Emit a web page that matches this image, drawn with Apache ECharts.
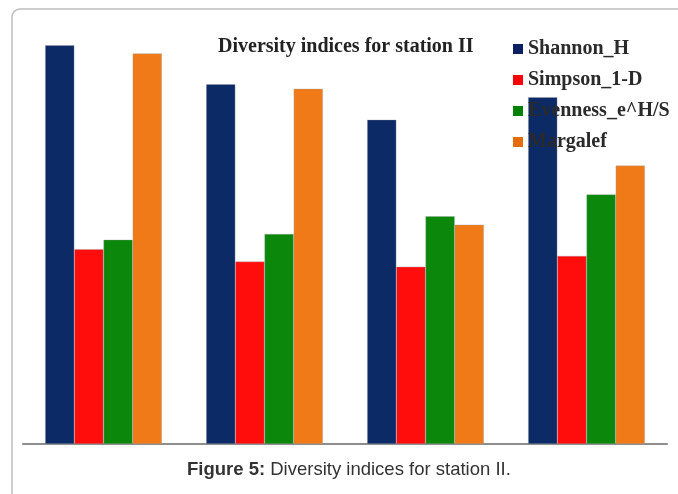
<!DOCTYPE html>
<html>
<head>
<meta charset="utf-8">
<script src="https://cdn.jsdelivr.net/npm/echarts@6/dist/echarts.min.js"></script>
<style>
  html, body { margin: 0; padding: 0; background: #ffffff; }
  #chart { width: 678px; height: 494px; }
</style>
</head>
<body>
<div id="chart"></div>
<script>
// Diversity indices per sampling period, station II
const categories = ['1', '2', '3', '4'];
const seriesNames = ['Shannon_H', 'Simpson_1-D', 'Evenness_e^H/S', 'Margalef'];
const shannonH = [1.329, 1.199, 1.081, 1.156];
const simpson1D = [0.649, 0.608, 0.591, 0.627];
const evenness = [0.681, 0.700, 0.759, 0.832];
const margalef = [1.302, 1.184, 0.731, 0.928];

const barColors = ['#0c2a66', '#ff0d0d', '#0b880b', '#ef7a17'];
const legendColors = ['#0a2060', '#ff0000', '#008000', '#e46c0a'];
const values = [shannonH, simpson1D, evenness, margalef];

const chart = echarts.init(document.getElementById('chart'), null, { renderer: 'canvas' });

const series = seriesNames.map((name, i) => ({
  name: name,
  type: 'bar',
  data: values[i],
  barGap: '0%',
  barCategoryGap: '27.5%',
  itemStyle: {
    color: barColors[i],
    borderColor: 'rgba(160,160,160,0.7)',
    borderWidth: 0.5
  },
  emphasis: { disabled: true },
  animation: false
}));

chart.setOption({
  animation: false,
  title: {
    text: 'Diversity indices for station II',
    left: 213,
    top: 32,
    textStyle: {
      fontFamily: 'Liberation Serif',
      fontWeight: 'bold',
      fontSize: 20,
      color: '#222222'
    }
  },
  legend: {
    orient: 'vertical',
    left: 508,
    top: 34,
    zlevel: 1,
    itemWidth: 10,
    itemHeight: 10,
    itemGap: 11,
    icon: 'rect',
    data: seriesNames.map((n, i) => ({
      name: n,
      itemStyle: { color: legendColors[i], borderWidth: 0 }
    })),
    textStyle: {
      fontFamily: 'Liberation Serif',
      fontWeight: 'bold',
      fontSize: 20,
      color: '#2a2a2a'
    }
  },
  grid: { left: 23, right: 11, top: 24, bottom: 50 },
  xAxis: {
    type: 'category',
    data: categories,
    axisLine: { show: true, lineStyle: { color: '#8e8e8e', width: 2 } },
    axisTick: { show: false },
    axisLabel: { show: false },
    splitLine: { show: false }
  },
  yAxis: {
    type: 'value',
    min: 0,
    max: 1.4,
    show: false
  },
  series: series,
  graphic: [
    {
      type: 'rect',
      z: -10,
      shape: { x: 12, y: 9, width: 720, height: 540, r: 8 },
      style: { fill: 'none', stroke: '#bdbdbd', lineWidth: 1.5 },
      silent: true
    },
    {
      type: 'text',
      left: 187,
      top: 460,
      style: {
        rich: {
          b: { fontFamily: 'Liberation Sans', fontWeight: 'bold', fontSize: 18.5, fill: '#333333' },
          r: { fontFamily: 'Liberation Sans', fontSize: 18.5, fill: '#333333' }
        },
        text: '{b|Figure 5:}{r| Diversity indices for station II.}'
      },
      silent: true
    }
  ]
});
</script>
</body>
</html>
